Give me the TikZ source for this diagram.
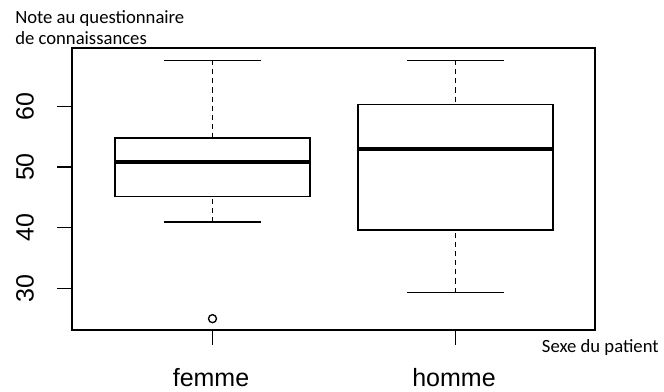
\documentclass[tikz,border=0pt]{standalone}
\usepackage{fontspec}
\setmainfont{Liberation Sans}
\newfontfamily\calibfont{Carlito}
\begin{document}
\begin{tikzpicture}[x=0.75pt,y=-0.75pt,
  axislabel/.style={font=\fontsize{18.75}{22}\selectfont, inner sep=0pt},
  axistitle/.style={font=\calibfont\fontsize{14}{16}\selectfont, inner sep=0pt, anchor=base west},
  boxline/.style={line width=1.1pt},
  whisker/.style={line width=1.25pt, dash pattern=on 3.8pt off 3pt}]
    % Define the frame and the scale of the plot
    \def\frameleft{72}
    \def\frameright{595}
    \def\frametop{48}
    \def\framebottom{330}
    \def\ticklen{15}
    \def\boxhalf{97.5}
    \def\caphalf{48.5}
    \def\yof#1{470.3-6.066*#1}

    \useasboundingbox (0,0) rectangle (664,392);

    % Draw the frame
    \draw[boxline] (\frameleft,\frametop) rectangle (\frameright,\framebottom);

    % Add the ticks of the y axis
    \foreach \v in {30,40,50,60} {
      \draw[boxline] (\frameleft-\ticklen,{\yof{\v}}) -- (\frameleft,{\yof{\v}});
      \node[axislabel, rotate=90] (y\v) at (25,{\yof{\v}}) {\v};
    }

    % Draw the boxes: centre / min / Q1 / median / Q3 / max / name
    \foreach \cx/\lo/\qa/\me/\qb/\hi/\name in {212.5/40.9/45.1/50.8/54.8/67.6/femme, 455.5/29.3/39.6/53.0/60.3/67.6/homme} {
      \draw[whisker] (\cx,{\yof{\hi}}) -- (\cx,{\yof{\qb}});
      \draw[whisker] (\cx,{\yof{\lo}}) -- (\cx,{\yof{\qa}});
      \draw[boxline] (\cx-\caphalf,{\yof{\hi}}) -- (\cx+\caphalf,{\yof{\hi}});
      \draw[boxline] (\cx-\caphalf,{\yof{\lo}}) -- (\cx+\caphalf,{\yof{\lo}});
      \draw[boxline] (\cx-\boxhalf,{\yof{\qa}}) rectangle (\cx+\boxhalf,{\yof{\qb}});
      \draw[line width=3pt] (\cx-\boxhalf,{\yof{\me}}) -- (\cx+\boxhalf,{\yof{\me}});
      \draw[boxline] (\cx,\framebottom) -- (\cx,\framebottom+\ticklen);
      \node[axislabel, anchor=base] (\name) at (\cx-1.5,386.5) {\name};
    }

    % Outlier
    \draw[line width=1pt] (212.5,{\yof{25}}) circle[radius=3pt];

    % Axis titles
    \node[axistitle] (ytitle) at (15,24) {Note au questionnaire};
    \node[axistitle] (ytitle2) at (15,44.3) {de connaissances};
    \node[axistitle] (xtitle) at (541.7,352.5) {Sexe du patient};
\end{tikzpicture}
\end{document}
